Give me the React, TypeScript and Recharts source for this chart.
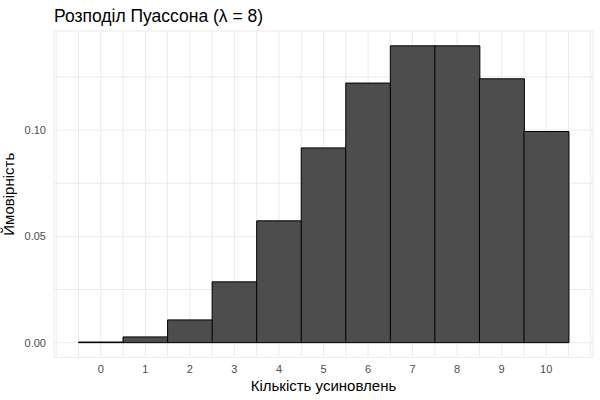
import React from 'react';
import {
   ComposedChart,
   Bar,
   XAxis,
   YAxis,
   CartesianGrid,
   Label,
} from 'recharts';

// кількість усиновлень k та ймовірність P(X = k), λ = 8
const counts = [0, 1, 2, 3, 4, 5, 6, 7, 8, 9, 10];
const probs = [
   0.0003, 0.0027, 0.0107, 0.0286, 0.0573, 0.0916, 0.1221, 0.1396, 0.1396,
   0.1241, 0.0993,
];

const yTicks = [0, 0.05, 0.1];
const xTicks = [0, 1, 2, 3, 4, 5, 6, 7, 8, 9, 10];
const yGrid = [0, 0.025, 0.05, 0.075, 0.1, 0.125];
const xGrid = [
   -1, -0.5, 0, 0.5, 1, 1.5, 2, 2.5, 3, 3.5, 4, 4.5, 5, 5.5, 6, 6.5, 7, 7.5, 8,
   8.5, 9, 9.5, 10, 10.5, 11,
];

const xDomain = [-1.05, 11.05];
const yDomain = [-0.00698, 0.14658];

const title = 'Розподіл Пуассона (λ = 8)';
const xTitle = 'Кількість усиновлень';
const yTitle = 'Ймовірність';

const FONT = '"Liberation Sans", Arial, Helvetica, sans-serif';

export default function App() {
   const chartData = counts.map((k, i) => ({ k, p: probs[i] }));

   return (
      <div
         style={{
            position: 'absolute',
            left: 0,
            top: 0,
            width: 600,
            height: 400,
            background: '#fff',
            fontFamily: FONT,
         }}
      >
         <ComposedChart
            width={600}
            height={400}
            data={chartData}
            margin={{ top: 31, right: 7, bottom: 9.5, left: 14 }}
            barCategoryGap={0}
            barGap={0}
         >
            {/* hidden axes only feed the grid (major + minor breaks) */}
            <XAxis
               xAxisId="grid"
               dataKey="k"
               type="number"
               domain={xDomain}
               ticks={xGrid}
               allowDataOverflow
               interval={0}
               hide
            />
            <YAxis
               yAxisId="grid"
               type="number"
               domain={yDomain}
               ticks={yGrid}
               allowDataOverflow
               interval={0}
               hide
            />
            <CartesianGrid
               xAxisId="grid"
               yAxisId="grid"
               stroke="#ebebeb"
               strokeWidth={1}
            />
            <XAxis
               dataKey="k"
               type="number"
               domain={xDomain}
               ticks={xTicks}
               allowDataOverflow
               interval={0}
               height={33}
               axisLine={false}
               tickLine={false}
               tick={{ fontSize: 11, fill: '#4d4d4d', fontFamily: FONT }}
            >
               <Label
                  content={({ viewBox }: any) => (
                     <text
                        x={viewBox.x + viewBox.width / 2}
                        y={viewBox.y + viewBox.height}
                        textAnchor="middle"
                        fontSize={15}
                        fill="#000"
                        fontFamily={FONT}
                     >
                        {xTitle}
                     </text>
                  )}
               />
            </XAxis>
            <YAxis
               type="number"
               domain={yDomain}
               ticks={yTicks}
               allowDataOverflow
               width={40}
               axisLine={false}
               tickLine={false}
               tickFormatter={(v: number) => v.toFixed(2)}
               tick={{ fontSize: 11, fill: '#4d4d4d', fontFamily: FONT }}
            >
               <Label
                  content={({ viewBox }: any) => {
                     const cy = viewBox.y + viewBox.height / 2;
                     return (
                        <g>
                           <text
                              x={14}
                              y={cy}
                              transform={`rotate(-90 14 ${cy})`}
                              textAnchor="middle"
                              fontSize={15}
                              fill="#000"
                              fontFamily={FONT}
                           >
                              {yTitle}
                           </text>
                           <text
                              x={viewBox.x + viewBox.width}
                              y={21.5}
                              textAnchor="start"
                              fontSize={17.5}
                              fill="#000"
                              fontFamily={FONT}
                           >
                              {title}
                           </text>
                        </g>
                     );
                  }}
               />
            </YAxis>
            <Bar
               dataKey="p"
               fill="#4d4d4d"
               stroke="#000"
               strokeWidth={1}
               isAnimationActive={false}
            />
         </ComposedChart>
      </div>
   );
}
